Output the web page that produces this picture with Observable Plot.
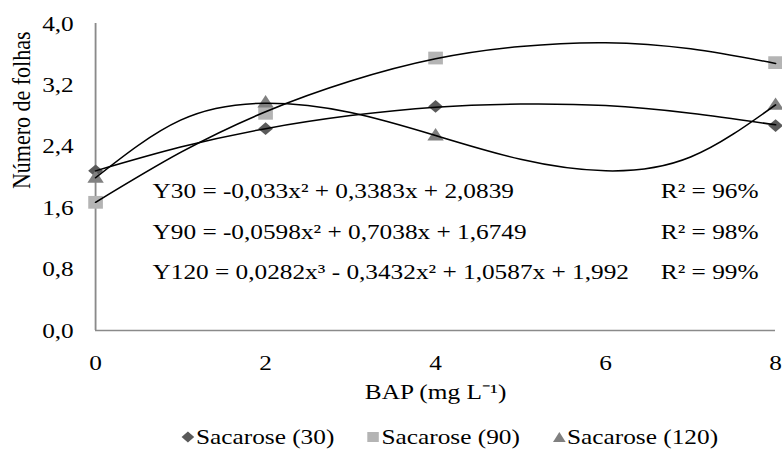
<!DOCTYPE html>
<html>
<head>
<meta charset="utf-8">
<script src="https://cdn.jsdelivr.net/npm/d3@7"></script>
<script src="https://cdn.jsdelivr.net/npm/@observablehq/plot@0.6"></script>
<style>
  html, body { margin: 0; padding: 0; background: #fff; }
  #wrap { position: relative; width: 782px; height: 456px; overflow: hidden; font-family: 'Liberation Serif', 'Times New Roman', serif; }
  #wrap svg text { font-family: 'Liberation Serif', 'Times New Roman', serif !important; }
  #legend { position: absolute; left: 181px; top: 423px; display: flex; gap: 28px; align-items: center;
            font-size: 22px; line-height: 28px; color: #000; transform: scaleX(1.15); transform-origin: 0 0; white-space: nowrap; }
  #legend .item { display: flex; align-items: center; }
  #legend svg { margin-right: 1px; }
</style>
</head>
<body>
<div id="wrap"><div id="chart"></div><div id="legend"></div></div>
<script>
// ---- data ----
const bap = [0, 2, 4, 8];
const sac30 = [2.08, 2.63, 2.92, 2.67];
const sac90 = [1.67, 2.83, 3.55, 3.49];
const sac120 = [1.98, 2.96, 2.53, 2.93];

// trend-line points
const curveX = [0, 1, 2, 3, 4, 5, 6, 7, 8];
const trend30 = [2.08, 2.39, 2.63, 2.80, 2.91, 2.95, 2.93, 2.83, 2.68];
const trend90 = [1.67, 2.32, 2.85, 3.25, 3.54, 3.70, 3.75, 3.67, 3.48];
const trend120 = [1.99, 2.74, 2.96, 2.84, 2.54, 2.23, 2.08, 2.26, 2.94];

const seriesNames = ["Sacarose (30)", "Sacarose (90)", "Sacarose (120)"];
const equations = [
  "Y30 = -0,033x² + 0,3383x + 2,0839",
  "Y90 = -0,0598x² + 0,7038x + 1,6749",
  "Y120 = 0,0282x³ - 0,3432x² + 1,0587x + 1,992"
];
const r2Labels = ["R² = 96%", "R² = 98%", "R² = 99%"];
const xTicks = [0, 2, 4, 6, 8];
const yTicks = [0, 0.8, 1.6, 2.4, 3.2, 4.0];
const xLabel = "BAP (mg L⁻¹)";
const yLabel = "Número de folhas";

// ---- styles ----
const colors = ["#5a5a5a", "#b4b4b4", "#808080"];
const symbols = ["diamond2", "square", "triangle"];
const radii = [5.8, 7.2, 5.3];

const pts = (ys) => bap.map((x, i) => ({x, y: ys[i]}));
const crv = (ys) => curveX.map((x, i) => ({x, y: ys[i]}));

const SX = 1.15;            // horizontal stretch of the reference
const W = 782 / SX, H = 456;
const FONT = "'Liberation Serif', 'Times New Roman', serif";

const marks = [
  Plot.ruleX([0], {stroke: "#8a8a8a", strokeWidth: 1.6}),
  Plot.ruleY([0], {stroke: "#8a8a8a", strokeWidth: 1.6}),
];
[sac30, sac90, sac120].forEach((s, k) => {
  marks.push(Plot.dot(pts(s), {x: "x", y: "y", symbol: () => symbols[k], fill: colors[k], stroke: "none", r: radii[k]}));
});
[trend30, trend90, trend120].forEach((t) => {
  marks.push(Plot.line(crv(t), {x: "x", y: "y", curve: "natural", stroke: "#000", strokeWidth: 1.5}));
});
const eqY = [1.82, 1.28, 0.76];
equations.forEach((e, i) => {
  marks.push(Plot.text([e], {x: 0.67, y: eqY[i], text: d => d, textAnchor: "start", fontSize: 22, fontFamily: FONT, fill: "#000"}));
  marks.push(Plot.text([r2Labels[i]], {x: 6.65, y: eqY[i], text: d => d, textAnchor: "start", fontSize: 22, fontFamily: FONT, fill: "#000"}));
});
marks.push(Plot.text([xLabel], {frameAnchor: "bottom", text: d => d, dy: 68, fontSize: 22, fontFamily: FONT, fill: "#000"}));
marks.push(Plot.text([yLabel], {frameAnchor: "left", text: d => d, rotate: -90, dx: -64, dy: 12, fontSize: 22, fontFamily: FONT, fill: "#000"}));

const svg = Plot.plot({
  width: W, height: H,
  marginLeft: 95 / SX, marginRight: 7 / SX, marginTop: 23, marginBottom: 126,
  style: `font-family: ${FONT}; font-size: 22px; color: #000; background: #fff;`,
  x: {domain: [0, 8], ticks: xTicks, tickSize: 0, tickPadding: 24, label: null, tickFormat: d => String(d)},
  y: {domain: [0, 4], ticks: yTicks, tickSize: 0, tickPadding: 19, label: null, tickFormat: d => d.toFixed(1).replace(".", ",")},
  marks
});
svg.setAttribute("viewBox", `0 0 ${W} ${H}`);
svg.setAttribute("width", 782);
svg.setAttribute("height", 456);
svg.setAttribute("preserveAspectRatio", "none");
svg.style.maxWidth = "none";
svg.style.height = "456px";
svg.style.width = "782px";
svg.style.overflow = "hidden";
document.getElementById("chart").appendChild(svg);

// legend
const symPaths = {
  diamond2: "M6,0.5L11.5,6L6,11.5L0.5,6Z",
  square: "M1,1H11V11H1Z",
  triangle: "M6,1L11.5,11H0.5Z"
};
const leg = document.getElementById("legend");
seriesNames.forEach((n, k) => {
  const item = document.createElement("div");
  item.className = "item";
  item.innerHTML = `<svg width="12" height="12" viewBox="0 0 12 12"><path d="${symPaths[symbols[k]]}" fill="${colors[k]}"/></svg><span>${n}</span>`;
  leg.appendChild(item);
});
</script>
</body>
</html>
